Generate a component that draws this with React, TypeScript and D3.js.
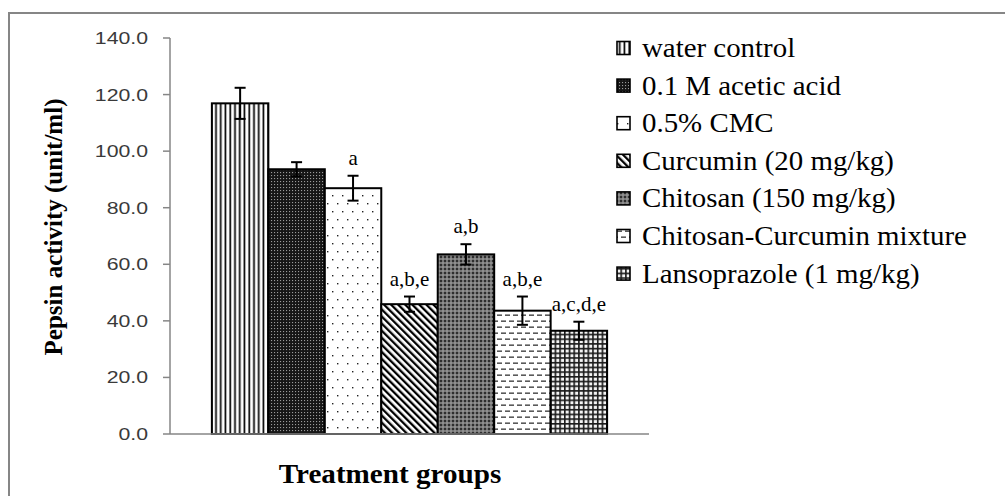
import React from 'react';
import * as d3 from 'd3';

// groups, means and SD
const groups = [
  'water control',
  '0.1 M acetic acid',
  '0.5% CMC',
  'Curcumin (20 mg/kg)',
  'Chitosan (150 mg/kg)',
  'Chitosan-Curcumin mixture',
  'Lansoprazole (1 mg/kg)',
];
const means = [116.9, 93.6, 86.9, 45.9, 63.5, 43.6, 36.5];
const errors = [5.5, 2.5, 4.4, 2.7, 3.6, 5.0, 3.2];
const letters = ['', '', 'a', 'a,b,e', 'a,b', 'a,b,e', 'a,c,d,e'];
const yTicks = [0, 20, 40, 60, 80, 100, 120, 140];
const patternIds = ['pVert', 'pDark', 'pDots', 'pDiag', 'pGrey', 'pDash', 'pGrid'];

const W = 1005;
const H = 496;
const margin = { top: 38, left: 170, right: 356, bottom: 62 };
const axisColor = '#868686';
const serif = "'Liberation Serif', 'Times New Roman', 'DejaVu Serif', serif";
const sans = "'Liberation Sans', Arial, sans-serif";

// horizontally stretched text (the picture is a bit wider than tall)
const SText = ({ x, y, sx, children, ...rest }: any) => (
  <g transform={`translate(${x},${y}) scale(${sx},1)`}>
    <text x={0} y={0} {...rest}>{children}</text>
  </g>
);

const Patterns = () => (
  <defs>
    <pattern id="pVert" patternUnits="userSpaceOnUse" width={4.75} height={10}>
      <rect width={4.75} height={10} fill="#fff" />
      <rect x={1.4} width={1.7} height={10} fill="#000" />
    </pattern>
    <pattern id="pDark" patternUnits="userSpaceOnUse" width={3} height={3}>
      <rect width={3} height={3} fill="#161616" />
      <rect x={1} y={1} width={1.1} height={1.1} fill="#9a9a9a" />
    </pattern>
    <pattern id="pDots" patternUnits="userSpaceOnUse" width={10} height={16}>
      <rect width={10} height={16} fill="#fff" />
      <rect x={2} y={3} width={1.4} height={1.4} fill="#222" />
      <rect x={7} y={11} width={1.4} height={1.4} fill="#222" />
    </pattern>
    <pattern id="pDiag" patternUnits="userSpaceOnUse" width={5} height={5} patternTransform="rotate(-45)">
      <rect width={5} height={5} fill="#fff" />
      <rect x={0} width={2.3} height={5} fill="#000" />
    </pattern>
    <pattern id="pGrey" patternUnits="userSpaceOnUse" width={4} height={4}>
      <rect width={4} height={4} fill="#777" />
      <rect x={0} y={0} width={2} height={2} fill="#2e2e2e" />
      <rect x={2.5} y={2.5} width={1} height={1} fill="#d8d8d8" />
    </pattern>
    <pattern id="pDash" patternUnits="userSpaceOnUse" width={8} height={12}>
      <rect width={8} height={12} fill="#fff" />
      <rect x={1} y={2.5} width={5} height={1.3} fill="#333" />
      <rect x={5} y={8.5} width={3} height={1.3} fill="#333" />
      <rect x={0} y={8.5} width={2} height={1.3} fill="#333" />
    </pattern>
    <pattern id="pGrid" patternUnits="userSpaceOnUse" width={4.7} height={4.7}>
      <rect width={4.7} height={4.7} fill="#f4f4f4" />
      <rect x={0} y={0} width={1.6} height={4.7} fill="#1a1a1a" />
      <rect x={0} y={0} width={4.7} height={1.6} fill="#1a1a1a" />
    </pattern>
  </defs>
);

export default function App() {
  const plotW = W - margin.left - margin.right;
  const plotH = H - margin.top - margin.bottom;

  const y = d3.scaleLinear().domain([0, 140]).range([margin.top + plotH, margin.top]);
  // one category, seven clustered series (Excel gap ~150%)
  const x0 = d3.scaleBand().domain(['Treatment groups']).range([margin.left, margin.left + plotW]).paddingOuter(0.106);
  const x1 = d3.scaleBand().domain(groups).range([0, x0.bandwidth()]).padding(0);
  const gx = x0('Treatment groups') as number;
  const base = y(0);

  const legendX = 617;
  const legendY = 48;
  const legendStep = 37.6;

  return (
    <svg width={W} height={H} style={{ position: 'absolute', left: 0, top: 0, background: '#fff' }}>
      <Patterns />
      <rect x={9} y={13} width={W + 10} height={H + 10} fill="#fff" stroke={axisColor} strokeWidth={2} />

      {/* y axis */}
      <line x1={margin.left} x2={margin.left} y1={y(140)} y2={base} stroke={axisColor} strokeWidth={1.5} />
      {yTicks.map((t) => (
        <g key={t}>
          <line x1={margin.left - 7} x2={margin.left} y1={y(t)} y2={y(t)} stroke={axisColor} strokeWidth={1.5} />
          <SText x={148} y={y(t) + 6} sx={1.25} textAnchor="end" fontFamily={sans} fontSize={17} fill="#3a3a3a">
            {d3.format('.1f')(t)}
          </SText>
        </g>
      ))}

      {/* bars */}
      {groups.map((g, i) => {
        const bx = gx + (x1(g) as number);
        return (
          <rect key={g} x={bx} y={y(means[i])} width={x1.bandwidth()} height={base - y(means[i])}
            fill={`url(#${patternIds[i]})`} stroke="#000" strokeWidth={2} />
        );
      })}

      {/* x axis */}
      <line x1={margin.left} x2={margin.left + plotW} y1={base} y2={base} stroke={axisColor} strokeWidth={1.5} />

      {/* error bars and letters */}
      {groups.map((g, i) => {
        const cx = gx + (x1(g) as number) + x1.bandwidth() / 2;
        const top = y(means[i] + errors[i]);
        const bot = y(means[i] - errors[i]);
        return (
          <g key={g}>
            <line x1={cx} x2={cx} y1={top} y2={bot} stroke="#000" strokeWidth={2} />
            <line x1={cx - 5.5} x2={cx + 5.5} y1={top} y2={top} stroke="#000" strokeWidth={2} />
            <line x1={cx - 5.5} x2={cx + 5.5} y1={bot} y2={bot} stroke="#000" strokeWidth={2} />
            {letters[i] && (
              <SText x={cx} y={top - 11} sx={1.05} textAnchor="middle" fontFamily={serif} fontWeight="normal" fontSize={20} fill="#000">
                {letters[i]}
              </SText>
            )}
          </g>
        );
      })}

      {/* legend */}
      {groups.map((g, i) => (
        <g key={g}>
          <rect x={legendX} y={legendY + i * legendStep - 6.5} width={13} height={13}
            fill={`url(#${patternIds[i]})`} stroke="#000" strokeWidth={1.6} />
          <SText x={642} y={legendY + i * legendStep + 9} sx={1.07} fontFamily={serif} fontWeight="normal" fontSize={27} fill="#000">
            {g}
          </SText>
        </g>
      ))}

      {/* axis titles */}
      <SText x={390} y={483} sx={1.06} textAnchor="middle" fontFamily={serif} fontWeight="bold" fontSize={27.5} fill="#000">
        Treatment groups
      </SText>
      <text transform={`translate(62,227) rotate(-90)`} textAnchor="middle" fontFamily={serif} fontWeight="bold" fontSize={25} fill="#000">
        Pepsin activity (unit/ml)
      </text>
    </svg>
  );
}
